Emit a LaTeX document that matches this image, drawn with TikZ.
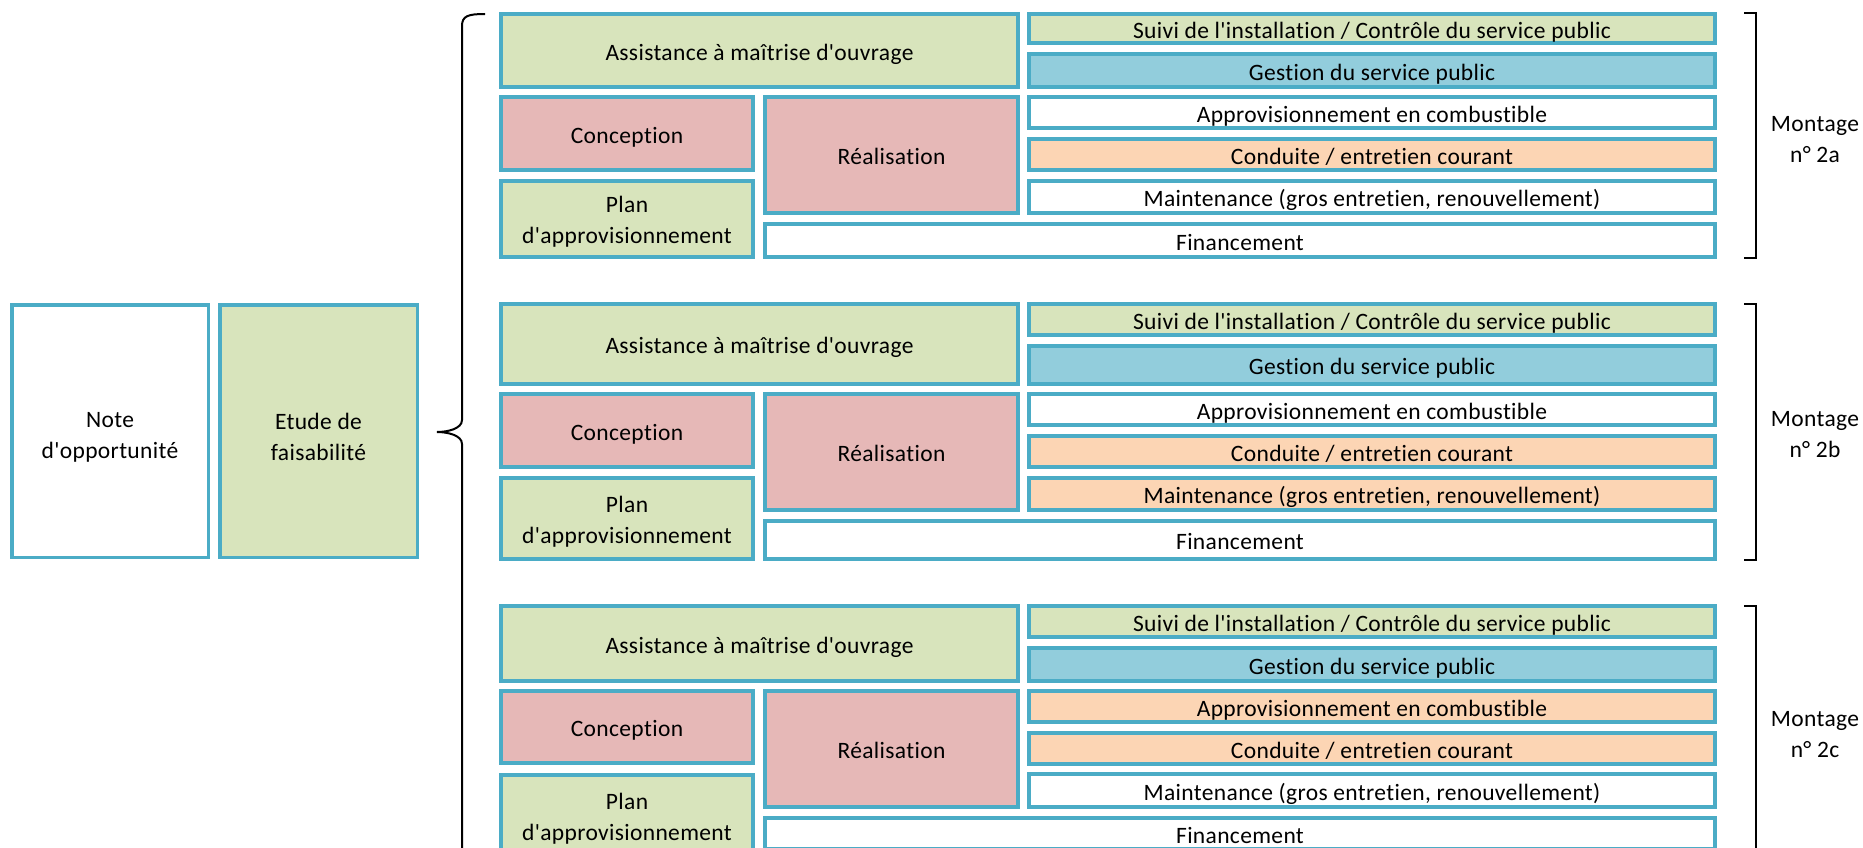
\documentclass[tikz,border=0pt]{standalone}
\usepackage{fontspec}
\setmainfont{Carlito}[Ligatures={NoCommon,TeXOff},LetterSpace=1.5]
\definecolor{bord}{HTML}{4BACC6}
\definecolor{cgreen}{HTML}{D8E4BC}
\definecolor{cblue}{HTML}{92CDDC}
\definecolor{cpink}{HTML}{E6B8B7}
\definecolor{corange}{HTML}{FCD5B4}
\tikzset{
  box/.style={draw=bord,line width=4pt,inner sep=0pt},
  bigbox/.style={box,line width=3.5pt},
  txt/.style={inner sep=0pt,align=center,text=black,
    font=\fontsize{23.5}{31}\selectfont},
  oneline/.style={txt,text height=16.5pt,text depth=4.7pt},
  gr/.style={fill=cgreen}, bl/.style={fill=cblue}, pk/.style={fill=cpink},
  og/.style={fill=corange}, wh/.style={fill=white},
  bracketline/.style={draw=black,line width=2.2pt},
  montage/.style={txt}
}
% name, x1, y1, x2, y2 (outer edges, pixels from top-left), style, text
\newcommand{\bx}[7]{%
  \node[box,#6,minimum width={#4-#2-4},minimum height={#5-#3-4}] (#1)
    at ({(#2+#4)/2},{-(#3+#5)/2}) {};
  \node[oneline] (#1-t) at ([yshift=-4pt]#1.center) {#7};}
% two-line box: name, x1, y1, x2, y2, style, text
\newcommand{\bxx}[7]{%
  \node[box,#6,minimum width={#4-#2-4},minimum height={#5-#3-4}] (#1)
    at ({(#2+#4)/2},{-(#3+#5)/2}) {};
  \node[txt] (#1-t) at ([yshift=-3pt]#1.center) {#7};}
\begin{document}
\begin{tikzpicture}[x=1pt,y=1pt]
\useasboundingbox (0,0) rectangle (1863,-848);
\clip (0,0) rectangle (1863,-848);
% left boxes
\node[bigbox,wh,minimum width=196.5,minimum height=252.5] (note) at (110,-431) {};
\node[txt] (note-t) at ([yshift=-6pt]note.center) {Note\\d'opportunité};
\node[bigbox,gr,minimum width=197.5,minimum height=252.5] (etude) at (318.5,-431) {};
\node[txt] (etude-t) at ([yshift=-6pt]etude.center) {Etude de\\faisabilité};
% brace
\coordinate (bt) at (485,-14);
\coordinate (btip) at (437,-432);
\coordinate (bb) at (462,-870);
\draw[bracketline,line width=2pt] (bt) .. controls (468,-14) and (462,-16) .. (462,-26)
  -- (462,-420) .. controls (462,-429) and (447,-432) .. (btip)
  .. controls (447,-432) and (462,-435) .. (462,-444) -- (bb);
% ---------- Section 1 ----------
\bx{amoA}{499}{12}{1020}{89}{gr}{Assistance à maîtrise d'ouvrage}
\bx{conA}{499}{95}{755}{172}{pk}{Conception}
\bx{realA}{763}{95}{1020}{215}{pk}{Réalisation}
\bxx{planA}{499}{179}{755}{259}{gr}{Plan\\d'approvisionnement}
\bx{finA}{763}{222}{1717}{259}{wh}{Financement}
\bx{suiA}{1027}{12}{1717}{45}{gr}{Suivi de l'installation / Contrôle du service public}
\bx{gesA}{1027}{52}{1717}{89}{bl}{Gestion du service public}
\bx{appA}{1027}{95}{1717}{130}{wh}{Approvisionnement en combustible}
\bx{condA}{1027}{137}{1717}{172}{og}{Conduite / entretien courant}
\bx{mainA}{1027}{179}{1717}{215}{wh}{Maintenance (gros entretien, renouvellement)}
\draw[bracketline] (1744,-13) -- (1756,-13) -- (1756,-258) -- (1744,-258);
\node[montage] (monA) at (1815,-140) {Montage\\n° 2a};
% ---------- Section 2 ----------
\bx{amoB}{499}{302}{1020}{386}{gr}{Assistance à maîtrise d'ouvrage}
\bx{conB}{499}{392}{755}{469}{pk}{Conception}
\bx{realB}{763}{392}{1020}{512}{pk}{Réalisation}
\bxx{planB}{499}{476}{755}{561}{gr}{Plan\\d'approvisionnement}
\bx{finB}{763}{519}{1717}{561}{wh}{Financement}
\bx{suiB}{1027}{302}{1717}{337}{gr}{Suivi de l'installation / Contrôle du service public}
\bx{gesB}{1027}{344}{1717}{386}{bl}{Gestion du service public}
\bx{appB}{1027}{392}{1717}{427}{wh}{Approvisionnement en combustible}
\bx{condB}{1027}{434}{1717}{469}{og}{Conduite / entretien courant}
\bx{mainB}{1027}{476}{1717}{512}{og}{Maintenance (gros entretien, renouvellement)}
\draw[bracketline] (1744,-304) -- (1756,-304) -- (1756,-560) -- (1744,-560);
\node[montage] (monB) at (1815,-435) {Montage\\n° 2b};
% ---------- Section 3 ----------
\bx{amoC}{499}{604}{1020}{683}{gr}{Assistance à maîtrise d'ouvrage}
\bx{conC}{499}{689}{755}{765}{pk}{Conception}
\bx{realC}{763}{689}{1020}{809}{pk}{Réalisation}
\bxx{planC}{499}{773}{755}{858}{gr}{Plan\\d'approvisionnement}
\bx{finC}{763}{816}{1717}{851}{wh}{Financement}
\bx{suiC}{1027}{604}{1717}{639}{gr}{Suivi de l'installation / Contrôle du service public}
\bx{gesC}{1027}{646}{1717}{683}{bl}{Gestion du service public}
\bx{appC}{1027}{689}{1717}{724}{og}{Approvisionnement en combustible}
\bx{condC}{1027}{731}{1717}{766}{og}{Conduite / entretien courant}
\bx{mainC}{1027}{772}{1717}{809}{wh}{Maintenance (gros entretien, renouvellement)}
\draw[bracketline] (1744,-606) -- (1756,-606) -- (1756,-880);
\node[montage] (monC) at (1815,-735) {Montage\\n° 2c};
\end{tikzpicture}
\end{document}
